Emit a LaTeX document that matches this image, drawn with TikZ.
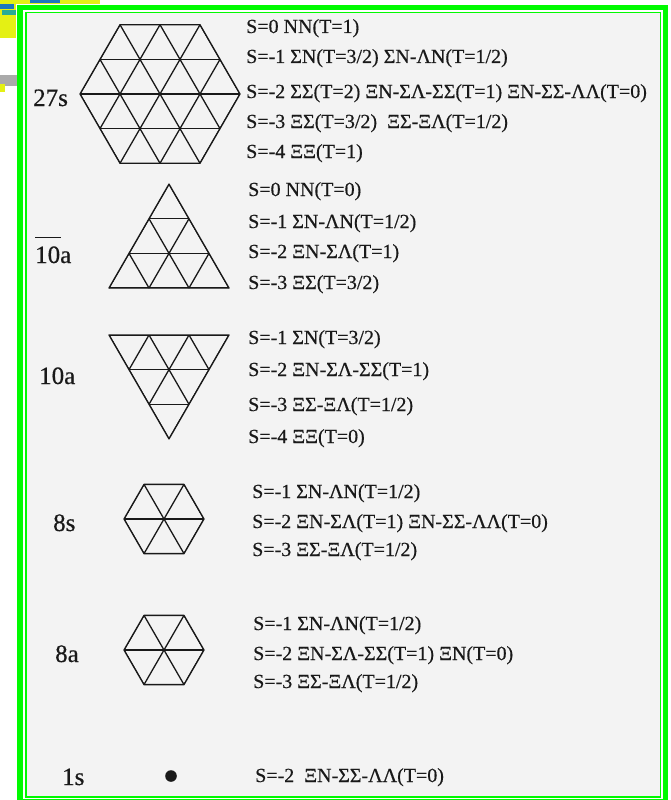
\documentclass[tikz,border=0pt]{standalone}
\usepackage{fontspec}
\setmainfont{Liberation Serif}
\newfontfamily\scanfont[RawFeature={embolden=0.5}]{Liberation Serif}
\definecolor{framegreen}{RGB}{0,250,0}
\definecolor{paper}{RGB}{243,243,243}
\definecolor{ink}{RGB}{25,25,25}
\definecolor{junkyellow}{RGB}{228,240,20}
\definecolor{junkblue}{RGB}{30,120,190}
\definecolor{junkteal}{RGB}{40,170,150}
\definecolor{junkgray}{RGB}{170,170,170}
\newcommand\trilatt[2]{%
  \foreach \k in {-6,...,6} {
    \draw[gridline] ({#1+40*\k-120},{#2-207.85}) -- ({#1+40*\k+120},{#2+207.85});
    \draw[gridline] ({#1+40*\k-120},{#2+207.85}) -- ({#1+40*\k+120},{#2-207.85});
    \draw[gridline] ({#1-240},{#2+34.641*\k}) -- ({#1+240},{#2+34.641*\k});
  }}
\tikzset{
  gridline/.style={draw=ink, line width=1.3pt, line join=round, line cap=round},
  spec/.style={anchor=base west, font=\scanfont\fontsize{20}{24}\selectfont, text=ink, inner sep=0pt},
  rep/.style={anchor=base west, font=\scanfont\fontsize{25}{30}\selectfont, text=ink, inner sep=0pt},
}
\begin{document}
\begin{tikzpicture}[x=1pt,y=-1pt]
\useasboundingbox (0,0) rectangle (670,800);
\fill[white] (0,0) rectangle (670,800);
% scan artefact at the top left
\fill[junkyellow] (0,0) rectangle (16,38);
\fill[junkyellow] (16,0) rectangle (100,4);
\fill[junkblue] (0,4) rectangle (14,9);
\fill[junkteal] (2,10) rectangle (16,15);
\fill[junkblue] (30,0) rectangle (60,3);
\fill[junkgray] (0,75) rectangle (17,86);
\fill[junkyellow] (0,84) rectangle (5,92);
% frames
\draw[framegreen, line width=5.5pt] (20,7.75) rectangle (665.5,802);
\fill[paper] (26,12.5) rectangle (660.5,797);
\draw[framegreen, line width=1.5pt] (26,12.5) rectangle (660.5,797);

% ---- 27s hexagon
\begin{scope}
  \clip (80,94) -- (120,24.72) -- (200,24.72) -- (240,94) -- (200,163.28) -- (120,163.28) -- cycle;
  \trilatt{160}{94}
\end{scope}
\draw[gridline] (80,94) -- (120,24.72) -- (200,24.72) -- (240,94) -- (200,163.28) -- (120,163.28) -- cycle;
\node[rep] (r27) at (33,106) {27s};
\node[spec] (a1) at (246,33) {S=0 NN(T=1)};
\node[spec] (a2) at (246,63) {S=-1 ΣN(T=3/2) ΣN-ΛN(T=1/2)};
\node[spec] (a3) at (246,98) {S=-2 ΣΣ(T=2) ΞN-ΣΛ-ΣΣ(T=1) ΞN-ΣΣ-ΛΛ(T=0)};
\node[spec] (a4) at (246,128) {S=-3 ΞΣ(T=3/2)\ \ ΞΣ-ΞΛ(T=1/2)};
\node[spec] (a5) at (246,158) {S=-4 ΞΞ(T=1)};

% ---- 10bar triangle
\begin{scope}
  \clip (109,288) -- (229,288) -- (169,184.08) -- cycle;
  \trilatt{109}{288}
\end{scope}
\draw[gridline] (109,288) -- (229,288) -- (169,184.08) -- cycle;
\node[rep] (r10b) at (35,263) {\rlap{\rule[25pt]{26pt}{1.3pt}}10a};
\node[spec] (b1) at (248,196) {S=0 NN(T=0)};
\node[spec] (b2) at (248,228) {S=-1 ΣN-ΛN(T=1/2)};
\node[spec] (b3) at (248,258) {S=-2 ΞN-ΣΛ(T=1)};
\node[spec] (b4) at (248,289) {S=-3 ΞΣ(T=3/2)};

% ---- 10 triangle
\begin{scope}
  \clip (109,335) -- (229,335) -- (169,438.92) -- cycle;
  \trilatt{109}{335}
\end{scope}
\draw[gridline] (109,335) -- (229,335) -- (169,438.92) -- cycle;
\node[rep] (r10) at (39,384) {10a};
\node[spec] (c1) at (248,344) {S=-1 ΣN(T=3/2)};
\node[spec] (c2) at (248,376) {S=-2 ΞN-ΣΛ-ΣΣ(T=1)};
\node[spec] (c3) at (248,411) {S=-3 ΞΣ-ΞΛ(T=1/2)};
\node[spec] (c4) at (248,443) {S=-4 ΞΞ(T=0)};

% ---- 8s hexagon
\begin{scope}
  \clip (124,519) -- (144,484.36) -- (184,484.36) -- (204,519) -- (184,553.64) -- (144,553.64) -- cycle;
  \trilatt{164}{519}
\end{scope}
\draw[gridline] (124,519) -- (144,484.36) -- (184,484.36) -- (204,519) -- (184,553.64) -- (144,553.64) -- cycle;
\node[rep] (r8s) at (53,531) {8s};
\node[spec] (d1) at (252,498) {S=-1 ΣN-ΛN(T=1/2)};
\node[spec] (d2) at (252,528) {S=-2 ΞN-ΣΛ(T=1) ΞN-ΣΣ-ΛΛ(T=0)};
\node[spec] (d3) at (252,556) {S=-3 ΞΣ-ΞΛ(T=1/2)};

% ---- 8a hexagon
\begin{scope}
  \clip (124,650) -- (144,615.36) -- (184,615.36) -- (204,650) -- (184,684.64) -- (144,684.64) -- cycle;
  \trilatt{164}{650}
\end{scope}
\draw[gridline] (124,650) -- (144,615.36) -- (184,615.36) -- (204,650) -- (184,684.64) -- (144,684.64) -- cycle;
\node[rep] (r8a) at (55,662) {8a};
\node[spec] (e1) at (253,630) {S=-1 ΣN-ΛN(T=1/2)};
\node[spec] (e2) at (253,660) {S=-2 ΞN-ΣΛ-ΣΣ(T=1) ΞN(T=0)};
\node[spec] (e3) at (253,688) {S=-3 ΞΣ-ΞΛ(T=1/2)};

% ---- 1s
\fill[ink] (171,776) circle (5.8);
\node[rep] (r1) at (62,785) {1s};
\node[spec] (f1) at (255,782) {S=-2\ \ ΞN-ΣΣ-ΛΛ(T=0)};
\end{tikzpicture}
\end{document}
